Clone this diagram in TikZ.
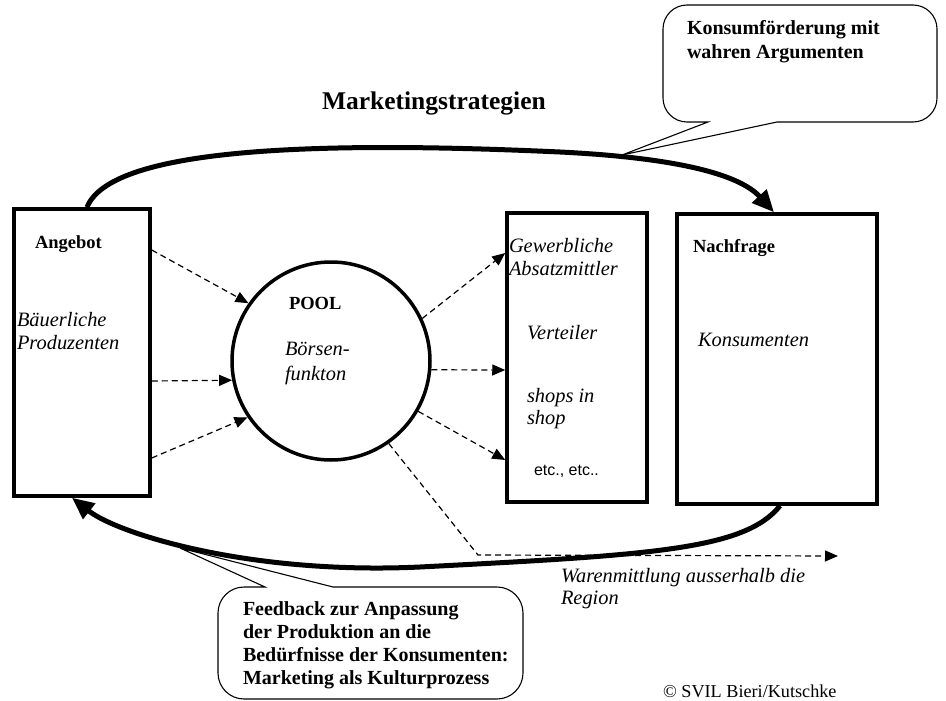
\documentclass[tikz,border=0pt]{standalone}
\usepackage{fontspec}
\setmainfont{Liberation Serif}
\newfontfamily\sansf{Liberation Sans}
\usetikzlibrary{arrows.meta}
\begin{document}
\begin{tikzpicture}[x=1pt,y=-1pt,
  box/.style={draw, line width=3.5pt, rectangle, inner sep=0pt},
  pool/.style={draw, line width=3.5pt, circle, inner sep=0pt, minimum size=198pt},
  txt/.style={anchor=base west, inner sep=0pt, outer sep=0pt},
  lblb/.style={txt, font=\fontsize{18.5}{22}\selectfont\bfseries},
  lbli/.style={txt, font=\fontsize{20.4}{24}\selectfont\itshape},
  callb/.style={txt, font=\fontsize{20}{23}\selectfont\bfseries},
  dasharrow/.style={line width=1.2pt, dash pattern=on 6pt off 4pt, -{Triangle[length=13pt,width=11pt]}},
  bigarrow/.style={line width=5pt, -{Triangle[length=22pt,width=19pt]}},
  callout/.style={draw, line width=1.1pt}
]
\useasboundingbox (0,0) rectangle (946,701);

% boxes
\node[box, minimum width=136pt, minimum height=287pt] (L) at (82,352.5) {};
\node[pool] (P) at (331,361) {};
\node[box, minimum width=140pt, minimum height=289pt] (M) at (577,357.5) {};
\node[box, minimum width=200pt, minimum height=290pt] (R) at (777,359) {};

% texts
\node[txt, font=\fontsize{25.5}{30}\selectfont\bfseries] (title) at (322,110) {Marketingstrategien};
\node[lblb] (angebot) at (35,248) {Angebot};
\node[lbli] (bauer1) at (17,326) {Bäuerliche};
\node[lbli] (bauer2) at (17,349) {Produzenten};
\node[lblb] (pooltxt) at (289,309) {POOL};
\node[lbli] (boerse1) at (285,355) {Börsen-};
\node[lbli] (boerse2) at (285,380) {funkton};
\node[lbli] (gew1) at (509,252) {Gewerbliche};
\node[lbli] (gew2) at (509,275) {Absatzmittler};
\node[lbli] (vert) at (527,339) {Verteiler};
\node[lbli] (shop1) at (527,402) {shops in};
\node[lbli] (shop2) at (527,424) {shop};
\node[txt, font=\fontsize{16}{19}\selectfont\sansf] (etc) at (534,475) {etc., etc..};
\node[lblb] (nach) at (693,252) {Nachfrage};
\node[lbli] (kons) at (698,346) {Konsumenten};
\node[lbli] (waren1) at (561,582) {Warenmittlung ausserhalb die};
\node[lbli] (waren2) at (561,604) {Region};
\node[txt, font=\fontsize{18.2}{21}\selectfont] (copy) at (663,697) {© SVIL Bieri/Kutschke};

% top callout
\node[callb] (kf1) at (687,35) {Konsumförderung mit};
\node[callb] (kf2) at (687,59) {wahren Argumenten};
\coordinate (ttip) at (622,155);
\draw[callout] (ttip) -- (777,122) {[rounded corners=24pt] -- (937,122) -- (937,5) -- (663,5) -- (663,122)} -- (708,122) -- cycle;

% bottom callout
\node[callb] (fb1) at (243,615) {Feedback zur Anpassung};
\node[callb] (fb2) at (243,638) {der Produktion an die};
\node[callb] (fb3) at (243,661) {Bedürfnisse der Konsumenten:};
\node[callb] (fb4) at (243,684) {Marketing als Kulturprozess};
\coordinate (btip) at (180,548);
\draw[callout] (btip) -- (333,587) {[rounded corners=26pt] -- (523,587) -- (523,699) -- (218,699) -- (218,587)} -- (265,587) -- cycle;

% dashed arrows: Angebot -> Pool
\draw[dasharrow] (L.east |- 0,250) -- (P.145);
\draw[dasharrow] (L.east |- 0,381) -- (P.191);
\draw[dasharrow] (L.east |- 0,458) -- (P.214);
% Pool -> Absatzmittler
\draw[dasharrow] (P.25) -- (M.west |- 0,253);
\draw[dasharrow] (P.-5) -- (M.west |- 0,370);
\draw[dasharrow] (P.-30) -- (M.west |- 0,460);
% Pool -> ausserhalb
\coordinate (wc) at (478,555);
\coordinate (we) at (838,556);
\draw[dasharrow] (P.-55) -- (wc) -- (we);

% big arcs
\draw[bigarrow] ([xshift=5pt]L.north) .. controls (110,150) and (300,140) .. (560,152)
   .. controls (680,158) and (740,175) .. ([xshift=-3pt]R.north);
\draw[bigarrow] ([xshift=3pt]R.south) .. controls (745,550) and (650,555) .. (420,567)
   .. controls (250,575) and (118,534) .. ([xshift=-10pt]L.south);
\end{tikzpicture}
\end{document}
